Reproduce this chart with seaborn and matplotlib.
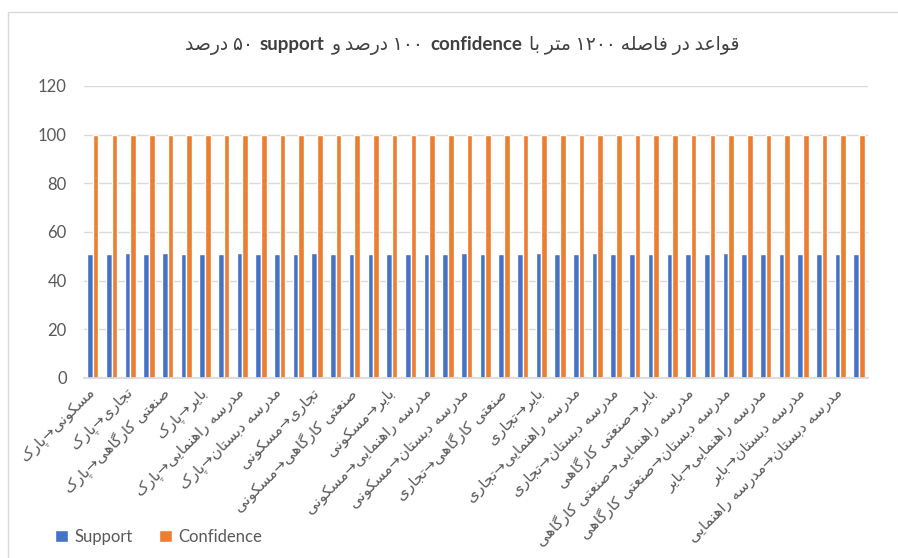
import re
import matplotlib
matplotlib.use("Agg")
import matplotlib.pyplot as plt
from matplotlib.patches import Rectangle
from matplotlib.offsetbox import TextArea, HPacker, AnchoredOffsetbox
import pandas as pd
import seaborn as sns

# ---------------- data ----------------
uses = ["پارک", "مسکونی", "تجاری", "صنعتی کارگاهی", "بایر", "مدرسه راهنمایی", "مدرسه دبستان"]
rules = []
for i, b in enumerate(uses):
    for a in uses[i + 1:]:
        rules.append(a + "→" + b)      # labelled rule
        rules.append(b + "→" + a)      # reverse rule (label skipped on axis)

support = [50.8, 50.8, 51.2, 50.8, 51.2, 50.8, 51.0, 50.8, 51.2, 50.8, 50.8,
           50.8, 51.2, 50.8, 51.0, 50.8, 50.8, 51.0, 51.0, 50.8, 51.2, 50.8,
           51.0, 50.8, 51.2, 50.8, 51.0, 51.2, 51.0, 50.8, 51.0, 51.0, 50.8,
           51.0, 51.2, 51.0, 50.8, 51.0, 50.8, 50.8, 51.0, 51.0]
confidence = [100] * 42
series_names = ["Support", "Confidence"]
yticks = [0, 20, 40, 60, 80, 100, 120]

title_parts = ["قواعد در فاصله ۱۲۰۰ متر با", "confidence", "۱۰۰ درصد و", "support", "۵۰ درصد"]

# ---------------- Persian shaping helpers ----------------
FORMS = {
    '\u0627': ('\uFE8D', '\uFE8E', None, None),
    '\u0628': ('\uFE8F', '\uFE90', '\uFE91', '\uFE92'),
    '\u062A': ('\uFE95', '\uFE96', '\uFE97', '\uFE98'),
    '\u062C': ('\uFE9D', '\uFE9E', '\uFE9F', '\uFEA0'),
    '\u062F': ('\uFEA9', '\uFEAA', None, None),
    '\u0631': ('\uFEAD', '\uFEAE', None, None),
    '\u0632': ('\uFEAF', '\uFEB0', None, None),
    '\u0633': ('\uFEB1', '\uFEB2', '\uFEB3', '\uFEB4'),
    '\u0635': ('\uFEB9', '\uFEBA', '\uFEBB', '\uFEBC'),
    '\u0639': ('\uFEC9', '\uFECA', '\uFECB', '\uFECC'),
    '\u0641': ('\uFED1', '\uFED2', '\uFED3', '\uFED4'),
    '\u0642': ('\uFED5', '\uFED6', '\uFED7', '\uFED8'),
    '\u0644': ('\uFEDD', '\uFEDE', '\uFEDF', '\uFEE0'),
    '\u0645': ('\uFEE1', '\uFEE2', '\uFEE3', '\uFEE4'),
    '\u0646': ('\uFEE5', '\uFEE6', '\uFEE7', '\uFEE8'),
    '\u0647': ('\uFEE9', '\uFEEA', '\uFEEB', '\uFEEC'),
    '\u0648': ('\uFEED', '\uFEEE', None, None),
    '\u067E': ('\uFB56', '\uFB57', '\uFB58', '\uFB59'),
    '\u06A9': ('\uFB8E', '\uFB8F', '\uFB90', '\uFB91'),
    '\u06AF': ('\uFB92', '\uFB93', '\uFB94', '\uFB95'),
    '\u06CC': ('\uFBFC', '\uFBFD', '\uFBFE', '\uFBFF'),
}


def shape(s):
    out = []
    for i, ch in enumerate(s):
        if ch not in FORMS:
            out.append(ch)
            continue
        prev = s[i - 1] if i > 0 else None
        nxt = s[i + 1] if i + 1 < len(s) else None
        jp = prev in FORMS and FORMS[prev][2] is not None
        jn = nxt in FORMS and FORMS[ch][2] is not None
        iso, fin, ini, med = FORMS[ch]
        if jp and jn:
            out.append(med)
        elif jp:
            out.append(fin)
        elif jn:
            out.append(ini)
        else:
            out.append(iso)
    return "".join(out)


def fa(s):
    t = shape(s)[::-1]
    return re.sub(r'[0-9\u06F0-\u06F9A-Za-z]+', lambda m: m.group(0)[::-1], t)


# ---------------- plot ----------------
sns.set_theme(style="white")
plt.rcParams['font.family'] = ['Lato', 'DejaVu Sans']

BLUE = "#4472C4"
ORANGE = "#ED7D31"
GREY = "#595959"

df = pd.DataFrame({
    "rule": rules * 2,
    "metric": [series_names[0]] * len(rules) + [series_names[1]] * len(rules),
    "value": support + confidence,
})

fig = plt.figure(figsize=(8.98, 5.58), dpi=100)
ax = fig.add_axes([0.093, 0.3226, 0.874, 0.5233])

sns.barplot(data=df, x="rule", y="value", hue="metric", order=rules,
            hue_order=series_names, palette=[BLUE, ORANGE], width=0.6,
            saturation=1, ax=ax, legend=True)

ax.set_ylim(0, 120)
ax.set_yticks(yticks)
ax.set_yticklabels([str(v) for v in yticks], color=GREY, fontsize=12)
ax.set_xlim(-0.5, len(rules) - 0.5)
ax.set_xticks(range(0, len(rules), 2))
ax.set_xticklabels([fa(rules[i]) for i in range(0, len(rules), 2)],
                   rotation=45, ha="right", va="center", rotation_mode="anchor",
                   color=GREY, fontsize=11, family=['DejaVu Sans'])
ax.tick_params(axis="x", length=0, pad=9)
ax.tick_params(axis="y", length=0, pad=12)
ax.set_xlabel("")
ax.set_ylabel("")
ax.yaxis.grid(True, color="#D9D9D9", linewidth=1)
ax.set_axisbelow(True)
for side in ["top", "right", "left"]:
    ax.spines[side].set_visible(False)
ax.spines["bottom"].set_color("#D9D9D9")

# legend
handles, labels = ax.get_legend_handles_labels()
ax.legend_.remove()
fig.legend(handles, labels, loc="center left", bbox_to_anchor=(0.045, 0.038),
           ncol=2, frameon=False, handlelength=0.75, handleheight=0.75,
           handletextpad=0.4, columnspacing=1.6, fontsize=12, labelcolor=GREY)

# title built from pieces (right-to-left visual order)
visual = [fa(title_parts[4]), title_parts[3], fa(title_parts[2]),
          title_parts[1], fa(title_parts[0])]
weights = ["normal", "bold", "normal", "bold", "normal"]
areas = [TextArea(t, textprops=dict(fontsize=13.5, color="#404040", fontweight=w,
                                    family=['Lato', 'DejaVu Sans']))
         for t, w in zip(visual, weights)]
box = HPacker(children=areas, align="baseline", pad=0, sep=5)
anch = AnchoredOffsetbox(loc="center", child=box, frameon=False,
                         bbox_to_anchor=(0.515, 0.918), bbox_transform=fig.transFigure,
                         borderpad=0)
fig.add_artist(anch)

# chart area border
fig.add_artist(Rectangle((0.009, -0.01), 1.0, 0.988, transform=fig.transFigure,
                         fill=False, edgecolor="#D9D9D9", linewidth=1, clip_on=False))

fig.savefig("out.png", dpi=100)
